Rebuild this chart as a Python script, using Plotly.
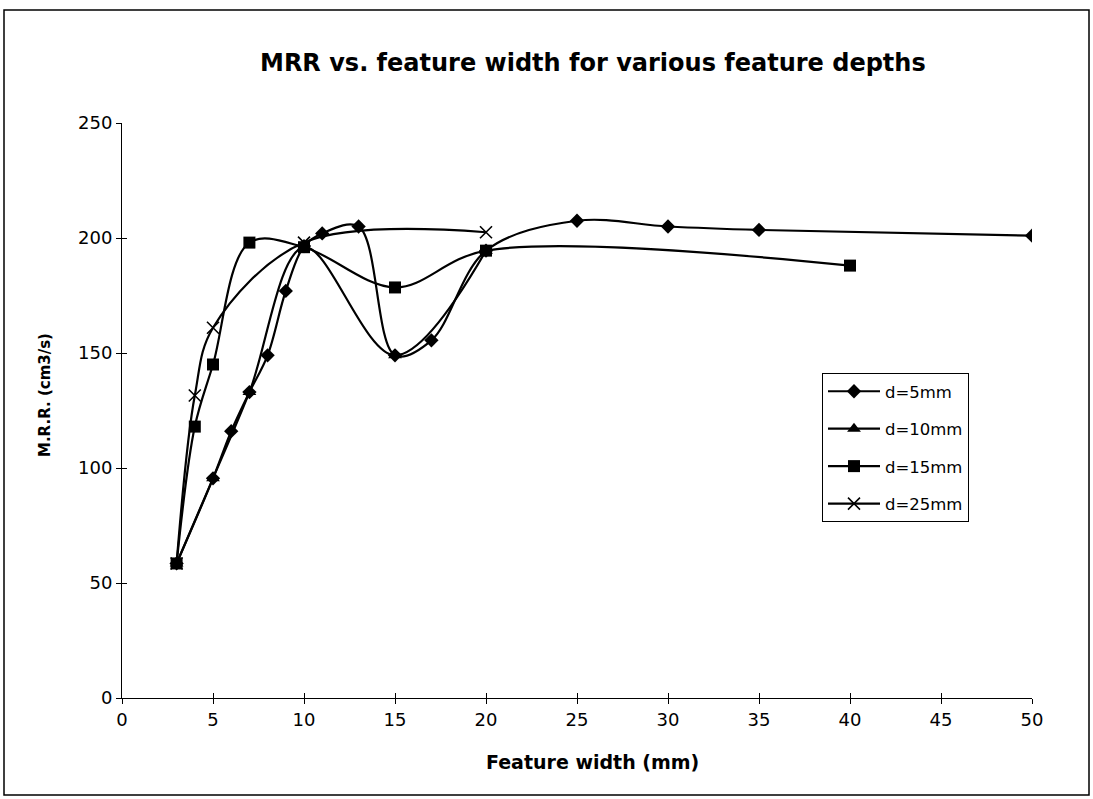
import plotly.graph_objects as go

# Feature widths (mm) and measured MRR (cm3/s) for each feature depth
width_d5 = [3, 5, 6, 7, 8, 9, 10, 11, 13, 15, 17, 20, 25, 30, 35, 50]
mrr_d5 = [58.5, 95.5, 116, 133, 149, 177, 196.5, 202, 205, 149, 155.5, 194.5, 207.5, 205, 203.5, 201]

width_d10 = [3, 5, 7, 10, 15, 20]
mrr_d10 = [58.5, 95.5, 133, 196, 149, 194.5]

width_d15 = [3, 4, 5, 7, 10, 15, 20, 40]
mrr_d15 = [58.5, 118, 145, 198, 196, 178.5, 194.5, 188]

width_d25 = [3, 4, 5, 10, 20]
mrr_d25 = [58.5, 131.5, 161, 198, 202.5]

x_ticks = [0, 5, 10, 15, 20, 25, 30, 35, 40, 45, 50]
y_ticks = [0, 50, 100, 150, 200, 250]

FONT = "DejaVu Sans, sans-serif"
W, H = 1093, 799
L, R, T, B = 122, 61, 123, 101
PW, PH = W - L - R, H - T - B


def px_x(p):
    return (p - L) / PW


def px_y(p):
    return (H - B - p) / PH


series = [
    ("d=5mm", width_d5, mrr_d5, "diamond", 11, None),
    ("d=10mm", width_d10, mrr_d10, "triangle-up", 12, None),
    ("d=15mm", width_d15, mrr_d15, "square", 12, None),
    ("d=25mm", width_d25, mrr_d25, "x-thin", 12, 1.6),
]

fig = go.Figure()
for name, xs, ys, sym, size, lw in series:
    marker = dict(symbol=sym, size=size, color="black")
    if lw:
        marker["line"] = dict(color="black", width=lw)
    fig.add_trace(go.Scatter(
        x=xs, y=ys, name=name, legendgroup=name,
        mode="lines+markers",
        line=dict(color="black", width=2.2, shape="spline", smoothing=1.0),
        marker=marker,
    ))

# Invisible companion trace so the overlay axes get drawn (cross-style ticks)
fig.add_trace(go.Scatter(x=[0], y=[0], xaxis="x2", yaxis="y2",
                         mode="markers", marker=dict(opacity=0),
                         showlegend=False, hoverinfo="skip"))

axis_common = dict(showgrid=False, zeroline=False, showline=True,
                   linecolor="black", linewidth=1, ticks="outside",
                   ticklen=5, tickwidth=1, tickcolor="black",
                   tickfont=dict(family=FONT, size=18, color="black"))

fig.update_layout(
    width=W, height=H,
    margin=dict(l=L, r=R, t=T, b=B, autoexpand=False),
    paper_bgcolor="white", plot_bgcolor="white",
    xaxis=dict(range=[0, 50], tickvals=x_ticks, **axis_common),
    yaxis=dict(range=[0, 250], tickvals=y_ticks, **axis_common),
    xaxis2=dict(overlaying="x", matches="x", range=[0, 50], tickvals=x_ticks,
                showticklabels=False, showgrid=False, zeroline=False,
                ticks="inside", ticklen=5, tickcolor="black", side="bottom",
                anchor="y2"),
    yaxis2=dict(overlaying="y", matches="y", range=[0, 250], tickvals=y_ticks,
                showticklabels=False, showgrid=False, zeroline=False,
                ticks="inside", ticklen=5, tickcolor="black", side="left",
                anchor="x2"),
    legend=dict(x=px_x(822), y=px_y(373),
                xanchor="left", yanchor="top",
                bordercolor="black", borderwidth=1, bgcolor="white",
                font=dict(family=FONT, size=16.5, color="black"),
                tracegroupgap=13, itemwidth=52),
    showlegend=True,
)

# Chart title and axis titles
fig.add_annotation(text="<b>MRR vs. feature width for various feature depths</b>",
                   xref="paper", yref="paper", x=px_x(593), y=px_y(63),
                   xanchor="center", yanchor="middle", showarrow=False,
                   font=dict(family=FONT, size=24, color="black"))
fig.add_annotation(text="<b>Feature width (mm)</b>",
                   xref="paper", yref="paper", x=px_x(592), y=px_y(762),
                   xanchor="center", yanchor="middle", showarrow=False,
                   font=dict(family=FONT, size=19, color="black"))
fig.add_annotation(text="<b>M.R.R. (cm3/s)</b>", textangle=-90,
                   xref="paper", yref="paper", x=px_x(45), y=px_y(395),
                   xanchor="center", yanchor="middle", showarrow=False,
                   font=dict(family=FONT, size=15, color="black"))

# Outer chart frame
fig.add_shape(type="rect", xref="paper", yref="paper",
              x0=px_x(4), x1=px_x(1089), y0=px_y(795), y1=px_y(10),
              line=dict(color="black", width=1.5), fillcolor="rgba(0,0,0,0)",
              layer="below")

fig.write_html("out.html")
